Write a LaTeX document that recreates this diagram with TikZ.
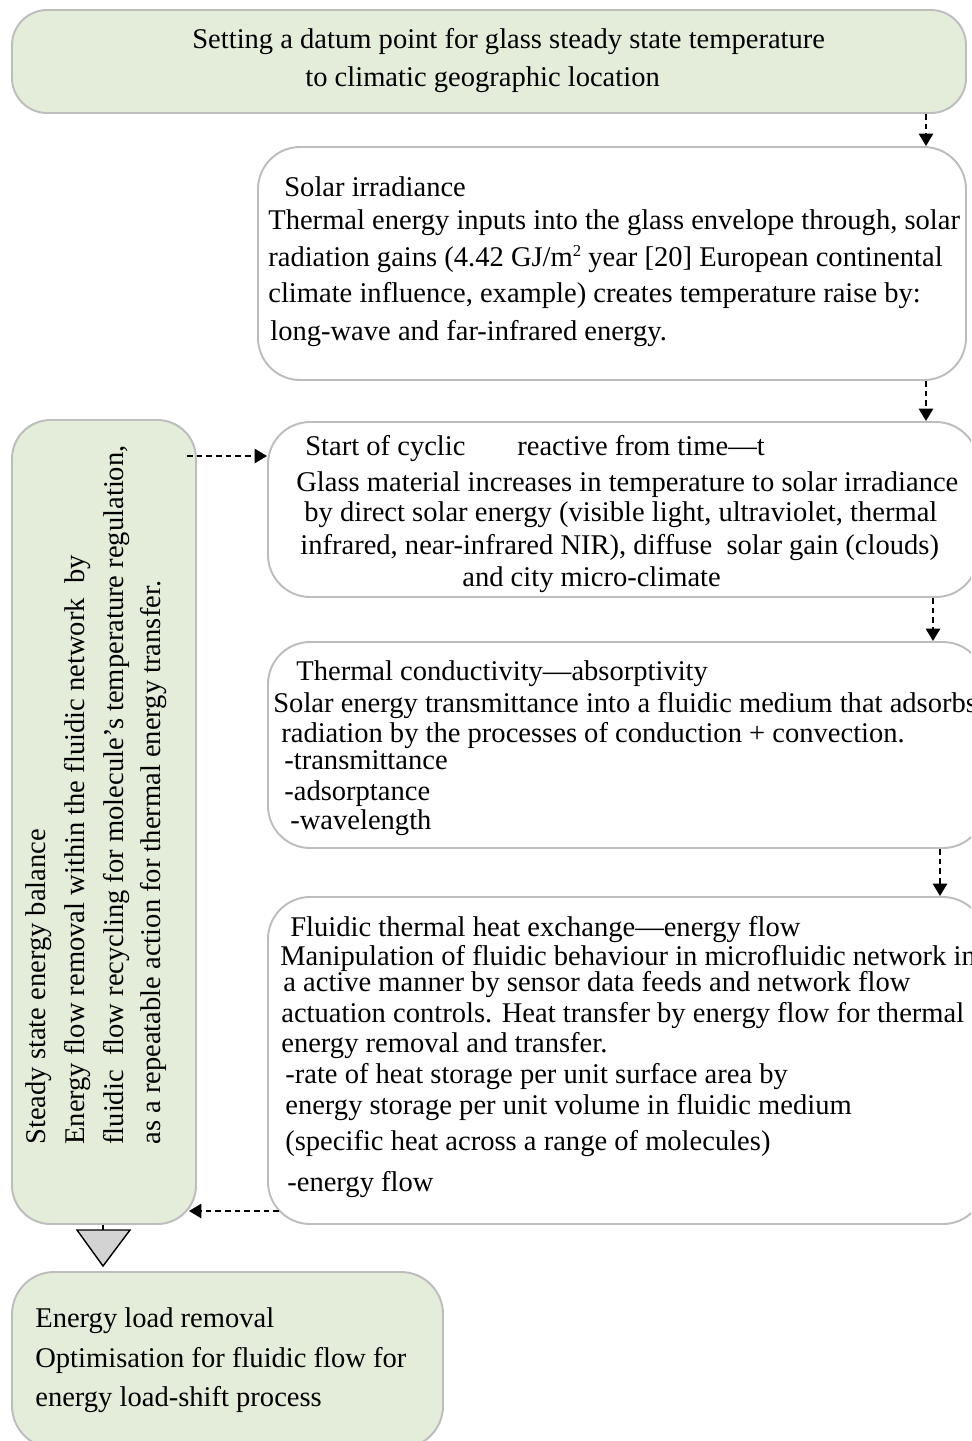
\documentclass[tikz,border=0pt]{standalone}
\usepackage{fontspec}
\setmainfont{Liberation Serif}
\usetikzlibrary{arrows.meta,fit}
\definecolor{boxgreen}{HTML}{E4EDDA}
\definecolor{boxline}{HTML}{BDBDBD}
\definecolor{trigray}{HTML}{D3D3D3}
\newcommand{\smallsup}[1]{\raisebox{0.75ex}{\fontsize{9.5}{10}\selectfont #1}}
\tikzset{
  box/.style={draw=boxline, line width=1.1pt, inner sep=0pt, rounded corners=#1},
  box/.default=22pt,
  greenbox/.style={box=#1, fill=boxgreen},
  greenbox/.default=22pt,
  txt/.style={anchor=base west, inner sep=0pt, font=\fontsize{16.25}{19}\selectfont},
  rtxt/.style={anchor=base west, inner sep=0pt, rotate=90, font=\fontsize{16.25}{19}\selectfont},
  arr/.style={line width=1.3pt, dash pattern=on 3.2pt off 2.3pt, -{Triangle[width=8pt,length=7pt]}}
}
\begin{document}
\begin{tikzpicture}[x=0.02cm,y=-0.02cm]
\useasboundingbox (0,0) rectangle (971,1441);
\clip (0,0) rectangle (971,1441);
\fill[white] (0,0) rectangle (971,1441);
% boxes
\node[greenbox=20pt, fit={(12,10) (966,113)}] (top) {};
\node[box=24pt, fill=white, fit={(258,147) (966,380)}] (solar) {};
\node[box=24pt, fill=white, fit={(268,422) (978,597)}] (start) {};
\node[box=24pt, fill=white, fit={(268,642) (985,848)}] (cond) {};
\node[box=24pt, fill=white, fit={(268,897) (985,1224)}] (fluid) {};
\node[greenbox=22pt, fit={(12,420) (196,1224)}] (steady) {};
\node[greenbox=24pt, fit={(12,1272) (443,1448)}] (load) {};
% top text
\node[txt] (t1) at (192,48) {Setting a datum point for glass steady state temperature};
\node[txt] (t2) at (305,86) {to climatic geographic location};
% solar text
\node[txt] (s1) at (284,196) {Solar irradiance};
\node[txt] (s2) at (268,229) {Thermal energy inputs into the glass envelope through, solar};
\node[txt] (s3) at (268,266) {radiation gains (4.42 GJ/m\smallsup{2} year [20] European continental};
\node[txt] (s4) at (268,302) {climate influence, example) creates temperature raise by:};
\node[txt] (s5) at (270,340) {long-wave and far-infrared energy.};
% start text
\node[txt] (c1a) at (305,455) {Start of cyclic};
\node[txt] (c1b) at (517,455) {reactive from time—t};
\node[txt] (c2) at (296,491) {Glass material increases in temperature to solar irradiance};
\node[txt] (c3) at (304,521) {by direct solar energy (visible light, ultraviolet, thermal};
\node[txt] (c4) at (300,554) {infrared, near-infrared NIR), diffuse\ \ solar gain (clouds)};
\node[txt] (c5) at (462,586) {and city micro-climate};
% conductivity text
\node[txt] (d1) at (296,680) {Thermal conductivity—absorptivity};
\node[txt] (d2) at (273,712) {Solar energy transmittance into a fluidic medium that adsorbs};
\node[txt] (d3) at (281,742) {radiation by the processes of conduction + convection.};
\node[txt] (d4) at (284,769) {-transmittance};
\node[txt] (d5) at (284,800) {-adsorptance};
\node[txt] (d6) at (290,829) {-wavelength};
% fluidic text
\node[txt] (f1) at (290,936) {Fluidic thermal heat exchange—energy flow};
\node[txt] (f2) at (280,965) {Manipulation of fluidic behaviour in microfluidic network in};
\node[txt] (f3) at (283,991) {a active manner by sensor data feeds and network flow};
\node[txt] (f4) at (281,1022) {actuation controls. Heat transfer by energy flow for thermal};
\node[txt] (f5) at (281,1052) {energy removal and transfer.};
\node[txt] (f6) at (285,1083) {-rate of heat storage per unit surface area by};
\node[txt] (f7) at (285,1114) {energy storage per unit volume in fluidic medium};
\node[txt] (f8) at (285,1150) {(specific heat across a range of molecules)};
\node[txt] (f9) at (287,1191) {-energy flow};
% steady (rotated) text
\node[rtxt] (l1) at (45,1145) {Steady state energy balance};
\node[rtxt] (l2) at (84,1145) {Energy flow removal within the fluidic network\ \ by};
\node[rtxt] (l3) at (123,1145) {fluidic\ \ flow recycling for molecule’s temperature regulation,};
\node[rtxt] (l4) at (160,1145) {as a repeatable action for thermal energy transfer.};
% load text
\node[txt] (b1) at (35,1327) {Energy load removal};
\node[txt] (b2) at (35,1367) {Optimisation for fluidic flow for};
\node[txt] (b3) at (35,1406) {energy load-shift process};
% connectors
\draw[arr] (top.south -| 926,0) -- (solar.north -| 926,0);
\draw[arr] (solar.south -| 926,0) -- (start.north -| 926,0);
\draw[arr] (start.south -| 933,0) -- (cond.north -| 933,0);
\draw[arr] (cond.south -| 940,0) -- (fluid.north -| 940,0);
\draw[arr] (steady.east |- 0,456) ++(-10,0) -- (start.west |- 0,456);
\draw[arr] (fluid.west |- 0,1211) ++(12,0) -- ([xshift=-8*0.02cm]steady.east |- 0,1211);
% flow triangle
\draw[line width=0.6pt] (steady.south -| 103,0) -- ++(0,5);
\draw[fill=trigray, line width=0.8pt] (77,1230) -- (130,1230) -- (103,1266) -- cycle;
\end{tikzpicture}
\end{document}
